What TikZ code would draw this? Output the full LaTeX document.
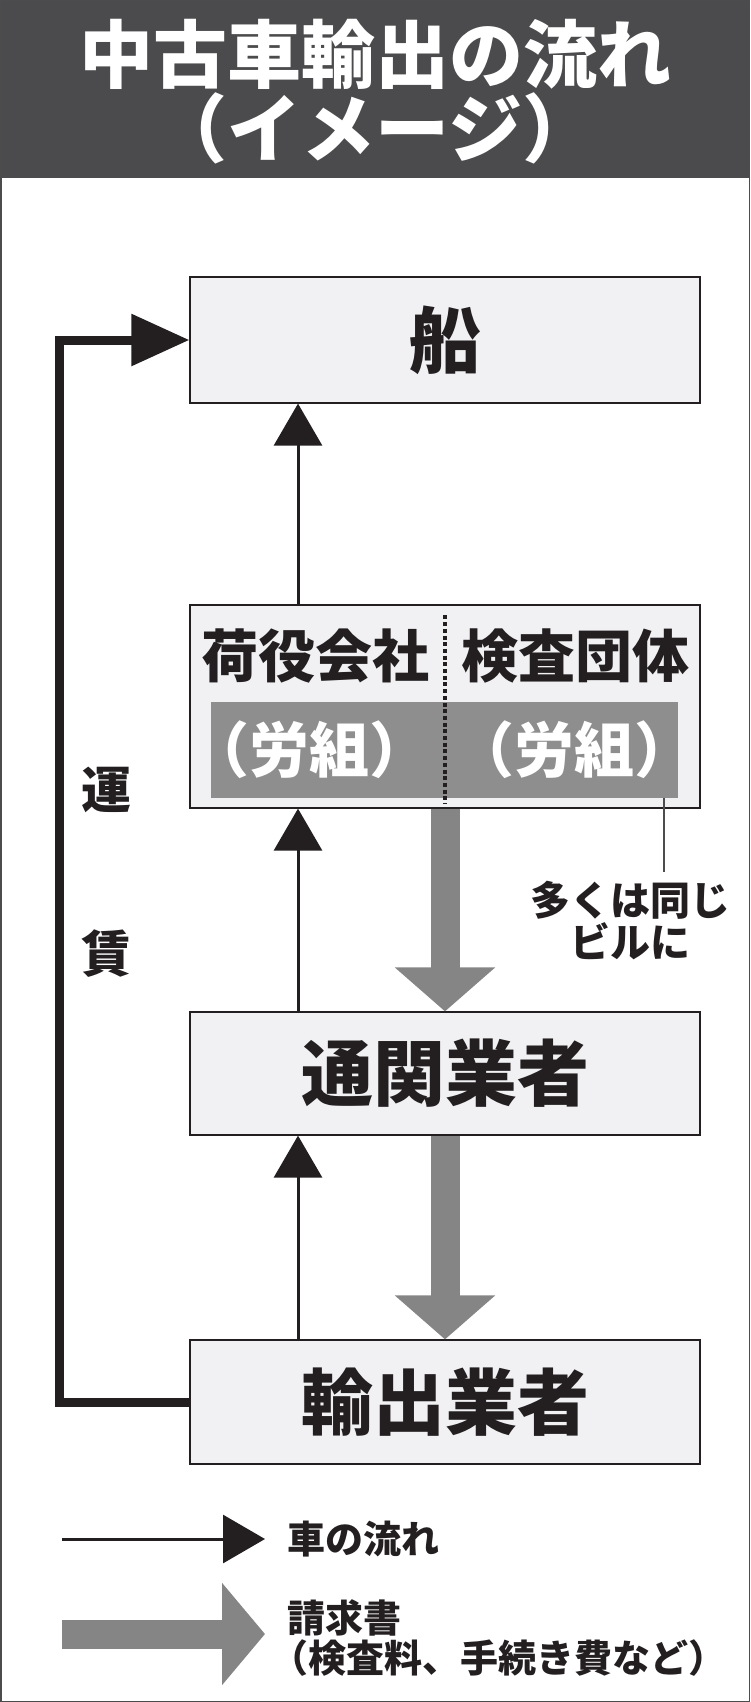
\documentclass[tikz,border=0pt]{standalone}
\usepackage{fontspec}
\setmainfont{Noto Sans CJK JP}[BoldFont={Noto Sans CJK JP Black}]
\usetikzlibrary{arrows.meta}
\definecolor{titlegray}{HTML}{4B4A4C}
\definecolor{boxgray}{HTML}{F1F1F3}
\definecolor{billgray}{HTML}{858585}
\definecolor{bandgray}{HTML}{8E8E8E}
\definecolor{ink}{HTML}{231F20}
\begin{document}
\begin{tikzpicture}[x=1pt,y=-1pt,
  station/.style={draw=ink,line width=1.2pt,fill=boxgray,minimum width=510pt,inner sep=0pt,text=ink,font=\bfseries\fontsize{72}{72}\selectfont},
  carflow/.style={ink,line width=3pt,-{Triangle[length=42pt,width=48pt]}},
  bill/.style={billgray,line width=29pt,-{Triangle[length=44pt,width=98pt]}},
  fare/.style={ink,line width=9pt,-{Triangle[length=58pt,width=50pt]}},
  mid/.style={inner sep=0pt,text=ink,font=\bfseries\fontsize{57}{57}\selectfont},
  small/.style={inner sep=0pt,text=ink,font=\bfseries\fontsize{38}{40}\selectfont}]
\useasboundingbox (0,0) rectangle (750,1702);
\fill[titlegray] (0,0) rectangle (750,178);
\draw[black!70,line width=1.5pt] (0.75,0.75) rectangle (749.25,1701.25);
\node[white,font=\bfseries\fontsize{74}{74}\selectfont] (title) at (375,54) {中古車輸出の流れ};
\node[white,font=\bfseries\fontsize{74}{74}\selectfont] (subtitle) at (375,128) {（イメージ）};

\node[station,minimum height=126pt] (ship) at (445,340) {船};
\node[station,minimum height=203pt] (load) at (445,706.5) {};
\node[station,minimum height=123pt] (customs) at (445,1073.5) {通関業者};
\node[station,minimum height=124pt] (exporter) at (445,1402) {輸出業者};

\node[fill=bandgray,minimum width=467pt,minimum height=96pt,inner sep=0pt] (band) at (444.5,750) {};
\draw[ink,line width=3.5pt,dash pattern=on 4pt off 2.7pt] ([yshift=-11pt]load.north) -- ([yshift=5pt]load.south);
\node[mid] (cargo) at (315,656) {荷役会社};
\node[mid] (inspect) at (575,656) {検査団体};
\node[mid,text=white,font=\bfseries\fontsize{60}{60}\selectfont] (union1) at (309,750) {（労組）};
\node[mid,text=white,font=\bfseries\fontsize{60}{60}\selectfont] (union2) at (574,750) {（労組）};

\node[small,align=center,font=\bfseries\fontsize{40}{42}\selectfont] (note) at (630,921) {多くは同じ\\ビルに};
\coordinate (tick) at (664,872);
\draw[black!70,line width=2pt] (band.south -| tick) -- (tick);

\node[inner sep=0pt,text=ink,font=\bfseries\fontsize{50}{50}\selectfont] (un) at (106,790) {運};
\node[inner sep=0pt,text=ink,font=\bfseries\fontsize{50}{50}\selectfont] (chin) at (106,954) {賃};

\draw[fare] (exporter.west) -- ++(-130,0) |- (ship.west);
\coordinate (carx) at (298,0);
\foreach \a/\b in {exporter/customs,customs/load,load/ship}
\draw[carflow] (\a.north -| carx) -- (\b.south -| carx);
\foreach \a/\b in {load/customs,customs/exporter}
\draw[bill] (\a.south) -- (\b.north);

\coordinate (k1) at (62,1539);
\coordinate (k1end) at (265,1539);
\draw[carflow] (k1) -- (k1end);
\node[small,anchor=west] (carkey) at (287,1539) {車の流れ};
\coordinate (k2) at (62,1634);
\coordinate (k2end) at (265,1634);
\draw[bill,-{Triangle[length=43pt,width=100pt]}] (k2) -- (k2end);
\node[small,anchor=west,align=left] (billkey) at (287,1638) {請求書\\\hspace*{-.45em}（検査料、手続き費など）};
\end{tikzpicture}
\end{document}
